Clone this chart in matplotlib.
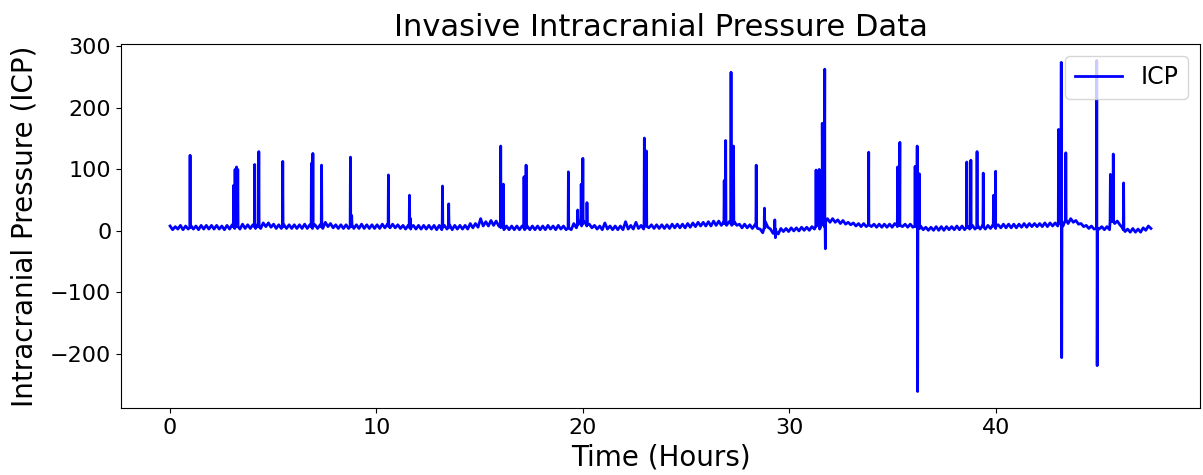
import numpy as np
import matplotlib
matplotlib.use('Agg')
import matplotlib.pyplot as plt

# baseline ICP band, read every ~0.25 h: top and bottom edge of the noisy band
base_hi = [
    8, 7, 9, 8,   9, 8, 9, 9,   9, 9, 8, 9,   10, 10, 11, 10,
    10, 11, 13, 13,   11, 10, 10, 10,   10, 10, 11, 10,   10, 10, 14, 12,
    10, 10, 10, 10,   10, 11, 10, 10,   10, 11, 11, 11,   10, 9, 9, 9,
    9, 9, 9, 9,   9, 9, 10, 9,   9, 9, 12, 12,   20, 15, 17, 16,
    8, 8, 8, 8,   8, 8, 8, 8,   8, 9, 8, 9,   8, 8, 12, 16,
    15, 11, 9, 8,   13, 8, 8, 8,   15, 9, 14, 9,   12, 10, 10, 10,
    10, 11, 11, 11,   12, 13, 14, 14,   15, 16, 16, 15,   15, 15, 11, 11,
    10, 10, 3, 15,   3, 3, 4, 4,   5, 5, 6, 6,   7, 9, 10, 20,
    20, 18, 17, 14,   13, 12, 12, 11,   11, 11, 11, 11,   12, 12, 11, 11,
    11, 8, 6, 6,   7, 7, 7, 7,   8, 8, 8, 9,   9, 9, 9, 10,
    10, 11, 11, 11,   11, 12, 12, 12,   12, 13, 13, 13,   13, 18, 20, 17,
    12, 9, 8, 7,   7, 7, 18, 16,   5, 3, 4, 3,   5, 8,
]
base_lo = [
    2, 3, 2, 3,   3, 2, 3, 3,   3, 3, 2, 3,   4, 3, 4, 4,
    4, 4, 7, 6,   4, 4, 4, 4,   4, 4, 4, 4,   4, 4, 7, 5,
    4, 4, 4, 4,   4, 4, 4, 4,   4, 5, 5, 5,   4, 3, 3, 3,
    3, 3, 3, 2,   2, 3, 2, 3,   3, 3, 5, 6,   8, 8, 9, 8,
    2, 2, 2, 2,   2, 2, 2, 2,   2, 3, 2, 3,   2, 2, 5, 8,
    8, 5, 3, 2,   3, 2, 2, 2,   3, 3, 4, 3,   5, 4, 4, 4,
    4, 5, 5, 5,   6, 7, 8, 8,   8, 9, 9, 9,   9, 9, 5, 5,
    4, 4, -3, 6,   -4, -5, -1, -1,   0, 0, 1, 1,   3, 3, 6, 14,
    14, 12, 11, 10,   8, 7, 7, 7,   6, 6, 6, 6,   7, 7, 6, 6,
    5, 2, 1, 1,   1, 1, 2, 2,   2, 2, 3, 3,   3, 3, 4, 4,
    5, 5, 5, 5,   6, 6, 7, 7,   7, 7, 8, 8,   8, 12, 14, 11,
    7, 4, 3, 3,   2, 2, 12, 10,   -1, -2, -2, -2,   1, 4,
]
base_t = np.linspace(0, 47.4, len(base_hi))

# spikes: time (h), peak value, level at the foot of the spike
spike_t = [0.97, 3.08, 3.15, 3.22, 3.28, 4.10, 4.30, 5.46, 6.85, 6.92,
           7.34, 8.74, 8.80, 10.58, 11.60, 11.65, 13.20, 13.50, 16.02, 16.15,
           17.15, 17.25, 19.30, 19.75, 19.92, 20.00, 20.20, 22.98, 23.08, 26.85,
           26.92, 27.18, 27.30, 28.40, 28.80, 29.30, 29.33, 31.30, 31.45, 31.60,
           31.72, 31.75, 33.85, 35.25, 35.36, 36.10, 36.20, 36.22, 36.30, 38.60,
           38.80, 39.10, 39.40, 39.90, 40.00, 43.05, 43.18, 43.20, 43.40, 44.90,
           44.92, 45.56, 45.70, 46.20]
spike_v = [123, 74, 100, 104, 100, 108, 129, 113, 110, 126,
           107, 120, 25, 91, 58, 20, 73, 44, 138, 76,
           88, 107, 96, 34, 76, 118, 46, 151, 130, 82,
           147, 258, 138, 107, 37, 18, -11, 99, 100, 175,
           263, -29, 128, 104, 144, 105, 138, -261, 93, 112,
           115, 129, 94, 58, 97, 165, 274, -206, 127, 277,
           -219, 92, 125, 78]
spike_foot = [6, 7, 7, 7, 7, 7, 7, 7, 7, 7,
              7, 7, 10, 8, 6, 6, 6, 6, 6, 6,
              5, 5, 5, 10, 12, 12, 10, 8, 8, 12,
              12, 12, 12, 8, 5, 0, 0, 8, 10, 12,
              15, 15, 10, 9, 9, 8, 6, 6, 4, 6,
              6, 6, 7, 8, 8, 12, 14, 14, 18, 4,
              4, 15, 15, 2]

# build the series: band top and bottom alternate, spikes slotted in by time
half = (base_t[1] - base_t[0]) / 2
t_all = list(base_t) + list(base_t + half)
v_all = list(base_hi) + list(base_lo)
for t, v, f in zip(spike_t, spike_v, spike_foot):
    t_all += [t - 0.015, t, t + 0.015]
    v_all += [f, v, f]
order = np.argsort(t_all, kind='stable')
hours = np.array(t_all)[order]
icp = np.array(v_all)[order]

fig, ax = plt.subplots(figsize=(12.03, 4.75), dpi=100)
plt.subplots_adjust(left=0.1006, right=0.9975, top=0.9074, bottom=0.141)

ax.plot(hours, icp, color='blue', linewidth=2, label='ICP')

ax.set_title('Invasive Intracranial Pressure Data', fontsize=22)
ax.set_xlabel('Time (Hours)', fontsize=20)
ax.set_ylabel('Intracranial Pressure (ICP)', fontsize=20, labelpad=8)
ax.tick_params(labelsize=16)
ax.legend(loc='upper right', fontsize=17)

fig.savefig('out.png', dpi=100)
